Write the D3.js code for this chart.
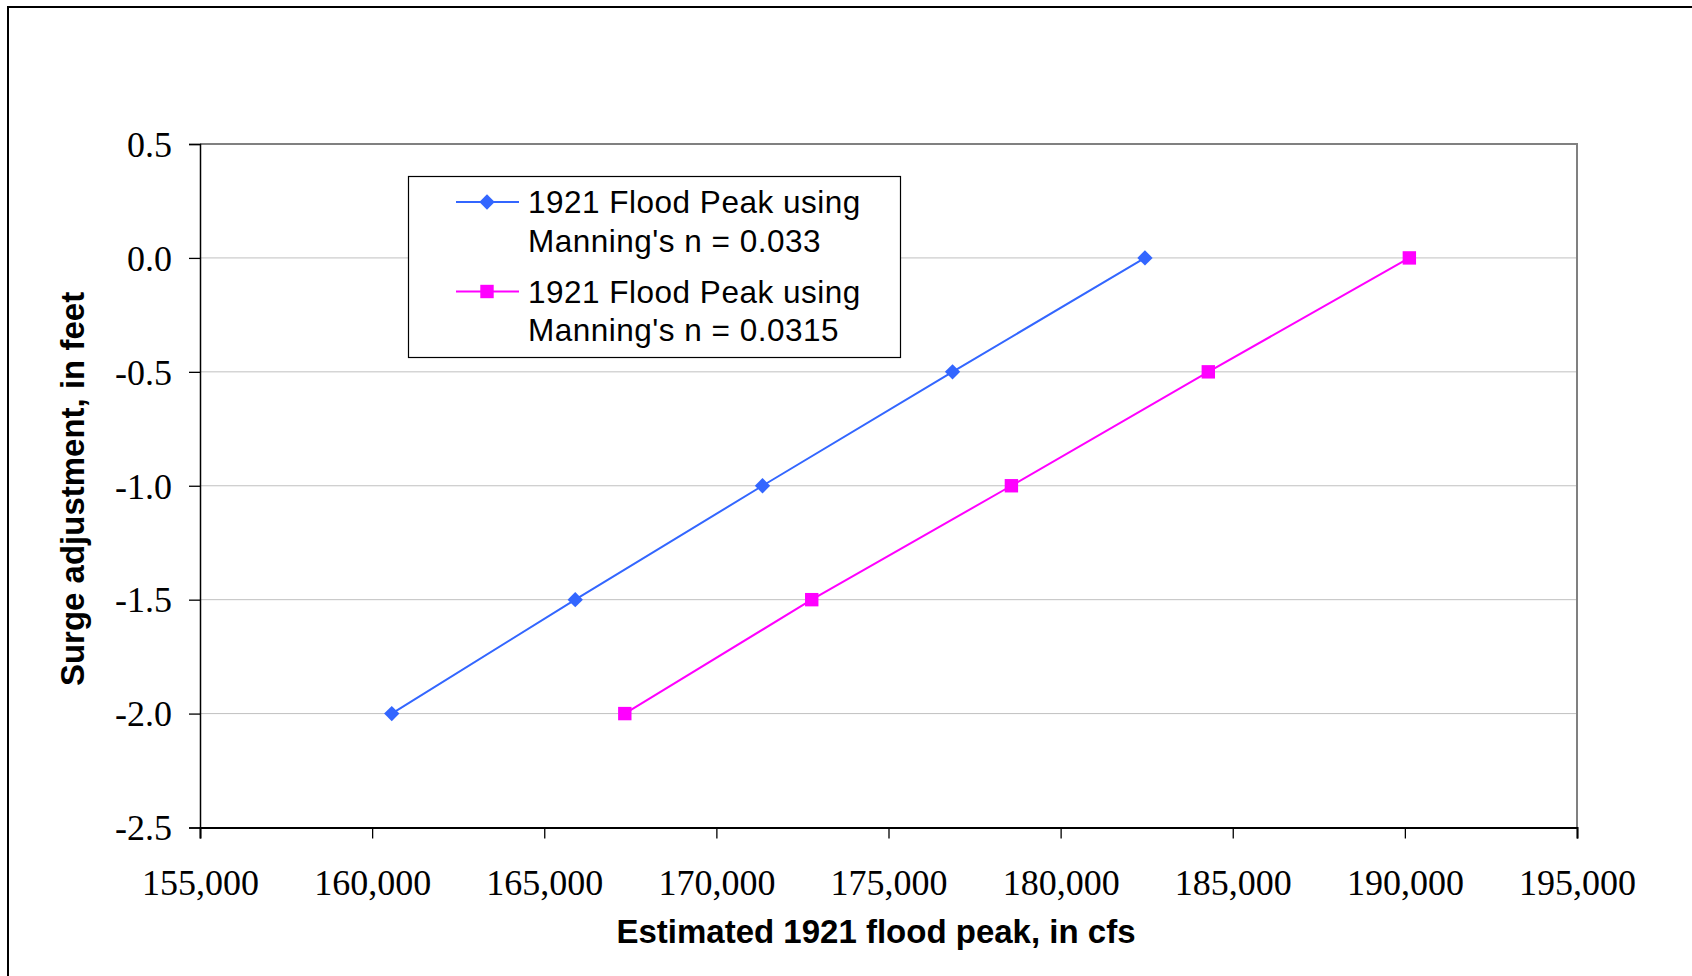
<!DOCTYPE html>
<html>
<head>
<meta charset="utf-8">
<script src="https://cdn.jsdelivr.net/npm/d3@7"></script>
<style>
  body { margin: 0; background: #fff; }
  svg { display: block; }
</style>
</head>
<body>
<div id="chart"></div>
<script>
const w = 1692;
const h = 976;

// surge adjustment (feet) for each point
const surge = [-2.0, -1.5, -1.0, -0.5, 0.0];
// estimated flood peak (cfs), one array per Manning's n
const peakN033 = [160570, 165900, 171340, 176860, 182450];
const peakN0315 = [167340, 172770, 178570, 184290, 190130];

const xTicks = [155000, 160000, 165000, 170000, 175000, 180000, 185000, 190000, 195000];
const yTicks = [0.5, 0.0, -0.5, -1.0, -1.5, -2.0, -2.5];

const seriesNames = [
    ["1921 Flood Peak using", "Manning's n = 0.033"],
    ["1921 Flood Peak using", "Manning's n = 0.0315"]
];
const seriesColours = ["#3366ff", "#ff00ff"];

const xTitle = "Estimated 1921 flood peak, in cfs";
const yTitle = "Surge adjustment, in feet";

const serif = "'Liberation Serif', 'Times New Roman', serif";
const sans = "'Liberation Sans', Arial, sans-serif";

const plotLeft = 200, plotRight = 1577, plotTop = 144, plotBottom = 827.5;

const x = d3.scaleLinear().domain([155000, 195000]).range([plotLeft, plotRight]);
const y = d3.scaleLinear().domain([-2.5, 0.5]).range([plotBottom, plotTop]);

const svg = d3.select("#chart")
    .append("svg")
    .attr("width", w)
    .attr("height", h);

// outer frame (runs off the right and bottom edges)
svg.append("rect")
    .attr("x", 8).attr("y", 7)
    .attr("width", w + 20).attr("height", h + 20)
    .attr("fill", "none")
    .attr("stroke", "#000")
    .attr("stroke-width", 2);

// gridlines
svg.append("g")
    .selectAll("line")
    .data(yTicks.filter(d => d > -2.5 && d < 0.5))
    .enter()
    .append("line")
    .attr("x1", plotLeft).attr("x2", plotRight)
    .attr("y1", d => y(d)).attr("y2", d => y(d))
    .attr("stroke", "#c0c0c0")
    .attr("stroke-width", 1);

// top and right of plot frame
svg.append("path")
    .attr("d", "M" + plotLeft + "," + plotTop + "H" + plotRight + "V" + plotBottom)
    .attr("fill", "none")
    .attr("stroke", "#808080")
    .attr("stroke-width", 2);

// axes
var xAxis = svg.append("g")
    .attr("transform", "translate(0," + plotBottom + ")")
    .call(d3.axisBottom(x).tickValues(xTicks).tickFormat(d3.format(",")).tickSizeOuter(0).tickSize(11).tickPadding(31));
xAxis.select(".domain").attr("stroke", "#000").attr("stroke-width", 2);
xAxis.selectAll(".tick line").attr("stroke", "#000").attr("stroke-width", 1.3);
xAxis.selectAll("text")
    .attr("font-family", serif)
    .attr("font-size", 36)
    .attr("fill", "#000");

var yAxis = svg.append("g")
    .attr("transform", "translate(" + plotLeft + ",0)")
    .call(d3.axisLeft(y).tickValues(yTicks).tickFormat(d => d.toFixed(1)).tickSizeOuter(0).tickSize(11).tickPadding(17));
yAxis.select(".domain").attr("stroke", "#000").attr("stroke-width", 1.5);
yAxis.selectAll(".tick line").attr("stroke", "#000").attr("stroke-width", 1.3);
yAxis.selectAll("text")
    .attr("font-family", serif)
    .attr("font-size", 36)
    .attr("dy", "0.34em")
    .attr("fill", "#000");

// axis titles
svg.append("text")
    .attr("x", 876).attr("y", 943)
    .attr("text-anchor", "middle")
    .attr("font-family", sans)
    .attr("font-weight", "bold")
    .attr("font-size", 33)
    .text(xTitle);

svg.append("text")
    .attr("transform", "translate(84,489) rotate(-90)")
    .attr("text-anchor", "middle")
    .attr("font-family", sans)
    .attr("font-weight", "bold")
    .attr("font-size", 33)
    .text(yTitle);

// series
var series = [peakN033, peakN0315].map(function(peaks, i) {
    return peaks.map(function(p, j) {
        return { x: p, y: surge[j], s: i };
    });
});

var line = d3.line()
    .x(d => x(d.x))
    .y(d => y(d.y));

function marker(g, s, cx, cy) {
    if (s === 0) {
        g.append("path")
            .attr("d", d3.symbol().type(d3.symbolDiamond2).size(150)())
            .attr("transform", "translate(" + cx + "," + cy + ")")
            .attr("fill", seriesColours[s]);
    } else {
        g.append("rect")
            .attr("x", cx - 6.7).attr("y", cy - 6.7)
            .attr("width", 13.4).attr("height", 13.4)
            .attr("fill", seriesColours[s]);
    }
}

series.forEach(function(data, i) {
    var g = svg.append("g");
    g.append("path")
        .datum(data)
        .attr("d", line)
        .attr("fill", "none")
        .attr("stroke", seriesColours[i])
        .attr("stroke-width", 2);
    data.forEach(function(d) {
        marker(g, i, x(d.x), y(d.y));
    });
});

// legend
var legend = svg.append("g");
legend.append("rect")
    .attr("x", 408.5).attr("y", 176.5)
    .attr("width", 492).attr("height", 181)
    .attr("fill", "#fff")
    .attr("stroke", "#000")
    .attr("stroke-width", 1.2);

var rowY = [202, 291.5];
seriesNames.forEach(function(lines, i) {
    legend.append("line")
        .attr("x1", 456).attr("x2", 519)
        .attr("y1", rowY[i]).attr("y2", rowY[i])
        .attr("stroke", seriesColours[i])
        .attr("stroke-width", 2);
    marker(legend, i, 487, rowY[i]);
    lines.forEach(function(t, k) {
        legend.append("text")
            .attr("x", 528)
            .attr("y", rowY[i] + 11 + k * 38.5)
            .attr("font-family", sans)
            .attr("font-size", 31.5)
            .attr("letter-spacing", 0.5)
            .attr("fill", "#000")
            .text(t);
    });
});
</script>
</body>
</html>
